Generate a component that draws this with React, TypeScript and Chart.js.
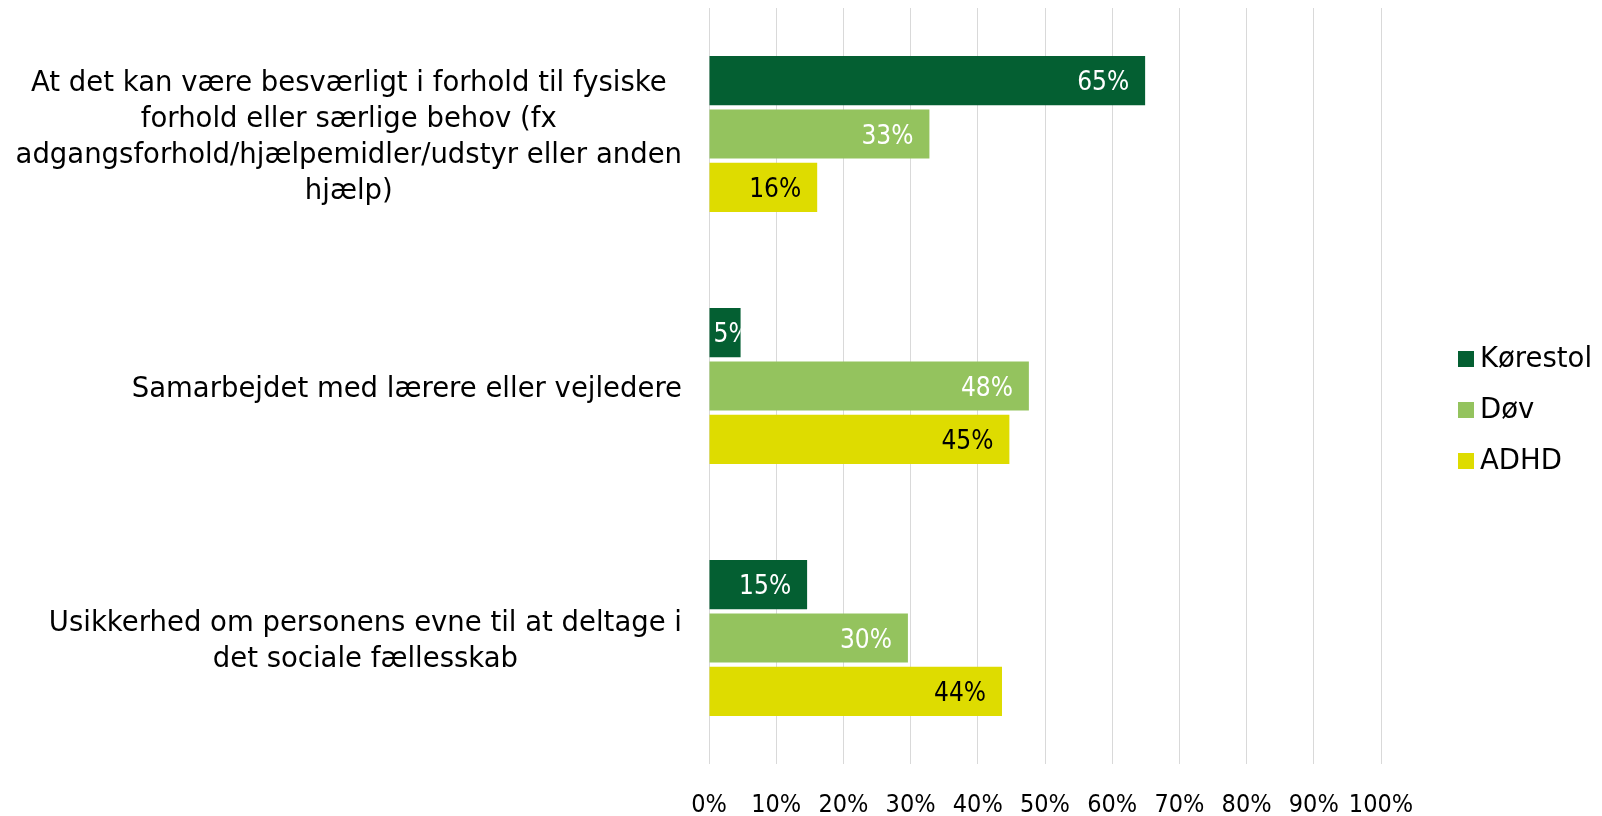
import React, { useEffect, useRef } from "react";
import { Chart, registerables } from "chart.js";

Chart.register(...registerables);

const categories: string[][] = [
  [
    "At det kan være besværligt i forhold til fysiske",
    "forhold eller særlige behov (fx",
    "adgangsforhold/hjælpemidler/udstyr eller anden",
    "hjælp)",
  ],
  ["Samarbejdet med lærere eller vejledere"],
  ["Usikkerhed om personens evne til at deltage i", "det sociale fællesskab"],
];

const seriesNames = ["Kørestol", "Døv", "ADHD"];
const korestolValues = [64.9, 4.7, 14.6];
const dovValues = [32.8, 47.6, 29.6];
const adhdValues = [16.1, 44.7, 43.6];
const seriesColors = ["#045F32", "#94C35E", "#DEDC00"];
const labelColors = ["#FFFFFF", "#FFFFFF", "#000000"];
const xTickValues = [0, 10, 20, 30, 40, 50, 60, 70, 80, 90, 100];

const FONT = "DejaVu Sans";
const NUM_FONT = '"DejaVu Sans Condensed", "DejaVu Sans"';

const categoryLabelPlugin = {
  id: "categoryLabels",
  afterDraw(chart: any) {
    const ctx = chart.ctx;
    const yScale = chart.scales.y;
    const area = chart.chartArea;
    const rightEdge = area.left - 27;
    const lineH = 36;
    ctx.save();
    ctx.font = `27.5px ${FONT}`;
    ctx.fillStyle = "#000";
    ctx.textBaseline = "middle";
    ctx.textAlign = "center";
    categories.forEach((lines, i) => {
      const cy = yScale.getPixelForValue(i) + 4;
      const widest = Math.max(...lines.map((l) => ctx.measureText(l).width));
      const cx = rightEdge - widest / 2;
      const top = cy - ((lines.length - 1) * lineH) / 2;
      lines.forEach((l, j) => ctx.fillText(l, cx, top + j * lineH));
    });
    ctx.restore();
  },
};

const dataLabelPlugin = {
  id: "barValueLabels",
  afterDatasetsDraw(chart: any) {
    const ctx = chart.ctx;
    ctx.save();
    ctx.font = `26px ${NUM_FONT}`;
    ctx.textBaseline = "middle";
    ctx.textAlign = "left";
    chart.data.datasets.forEach((ds: any, di: number) => {
      const meta = chart.getDatasetMeta(di);
      meta.data.forEach((bar: any, i: number) => {
        const v = ds.data[i];
        const text = `${Math.round(v)}%`;
        const w = ctx.measureText(text).width;
        const base = bar.base;
        const end = bar.x;
        const h = bar.height;
        let left = end - 16 - w;
        if (left < base + 4) left = base + 4;
        ctx.save();
        ctx.beginPath();
        ctx.rect(base, bar.y - h / 2, end - base, h);
        ctx.clip();
        ctx.fillStyle = labelColors[di];
        ctx.fillText(text, left, bar.y + 3);
        ctx.restore();
      });
    });
    ctx.restore();
  },
};

const legendPlugin = {
  id: "sideLegend",
  afterDraw(chart: any) {
    const ctx = chart.ctx;
    const startY = 359;
    const step = 51;
    const boxX = 1458;
    const box = 16;
    ctx.save();
    ctx.font = `27.5px ${FONT}`;
    ctx.textBaseline = "middle";
    ctx.textAlign = "left";
    seriesNames.forEach((name, i) => {
      const y = startY + i * step;
      ctx.fillStyle = seriesColors[i];
      ctx.fillRect(boxX, y - box / 2, box, box);
      ctx.fillStyle = "#000";
      ctx.fillText(name, boxX + 22, y + 1);
    });
    ctx.restore();
  },
};

export default function App() {
  const canvasRef = useRef<HTMLCanvasElement | null>(null);

  useEffect(() => {
    if (!canvasRef.current) return;
    const seriesValues = [korestolValues, dovValues, adhdValues];
    const chart = new Chart(canvasRef.current, {
      type: "bar",
      data: {
        labels: categories,
        datasets: seriesNames.map((name, i) => ({
          label: name,
          data: seriesValues[i],
          backgroundColor: seriesColors[i],
          borderWidth: 0,
          categoryPercentage: 0.635,
          barPercentage: 0.92,
        })),
      },
      options: {
        indexAxis: "y",
        responsive: true,
        maintainAspectRatio: false,
        animation: false,
        layout: { padding: { left: 709, right: 221, top: 8, bottom: 0 } },
        plugins: {
          legend: { display: false },
          tooltip: { enabled: false },
        },
        scales: {
          x: {
            min: 0,
            max: 100,
            afterBuildTicks: (scale: any) => {
              scale.ticks = xTickValues.map((v) => ({ value: v }));
            },
            afterFit: (scale: any) => {
              scale.height = 52;
            },
            ticks: {
              autoSkip: false,
              maxRotation: 0,
              padding: 29,
              color: "#000",
              font: { family: NUM_FONT, size: 25, lineHeight: 1 },
              callback: (v: any) => `${v}%`,
            },
            grid: { color: "#D9D9D9", lineWidth: 1, drawTicks: false },
            border: { display: false },
          },
          y: {
            display: false,
          },
        },
      },
      plugins: [categoryLabelPlugin, dataLabelPlugin, legendPlugin],
    });
    return () => chart.destroy();
  }, []);

  return (
    <div style={{ position: "fixed", left: 0, top: 0, width: 1602, height: 816, background: "#fff" }}>
      <canvas ref={canvasRef} />
    </div>
  );
}
